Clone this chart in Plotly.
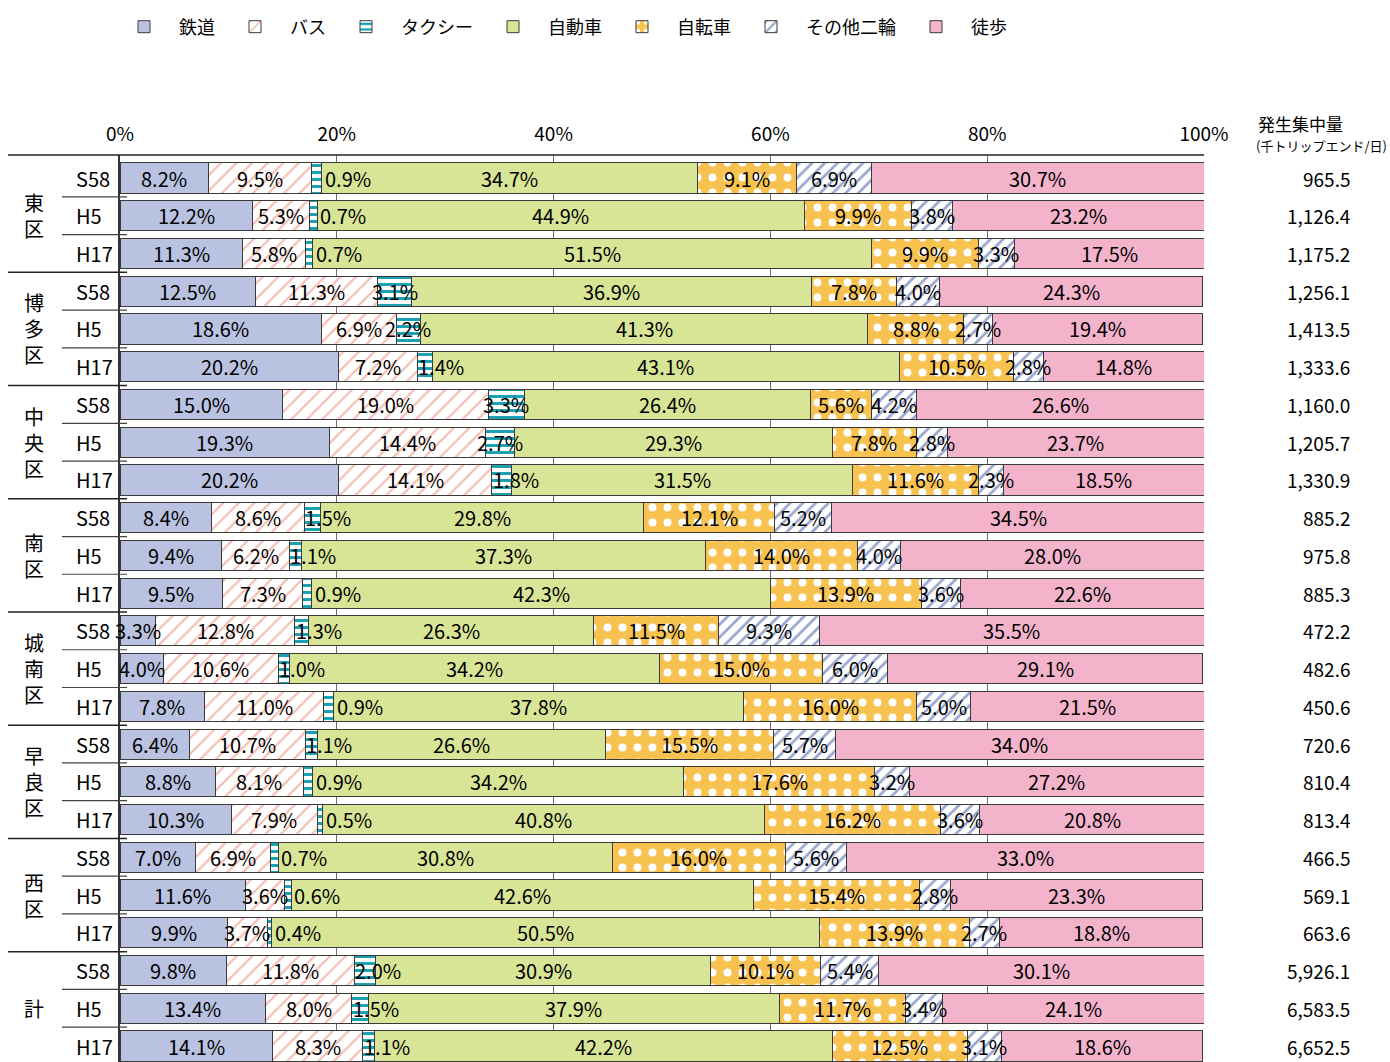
import plotly.graph_objects as go
import numpy as np

districts = ["東区", "博多区", "中央区", "南区", "城南区", "早良区", "西区", "計"]
years = ["S58", "H5", "H17"]
modes = ["鉄道", "バス", "タクシー", "自動車", "自転車", "その他二輪", "徒歩"]

rail = [8.2, 12.2, 11.3, 12.5, 18.6, 20.2, 15.0, 19.3, 20.2, 8.4, 9.4, 9.5,
        3.3, 4.0, 7.8, 6.4, 8.8, 10.3, 7.0, 11.6, 9.9, 9.8, 13.4, 14.1]
bus = [9.5, 5.3, 5.8, 11.3, 6.9, 7.2, 19.0, 14.4, 14.1, 8.6, 6.2, 7.3,
       12.8, 10.6, 11.0, 10.7, 8.1, 7.9, 6.9, 3.6, 3.7, 11.8, 8.0, 8.3]
taxi = [0.9, 0.7, 0.7, 3.1, 2.2, 1.4, 3.3, 2.7, 1.8, 1.5, 1.1, 0.9,
        1.3, 1.0, 0.9, 1.1, 0.9, 0.5, 0.7, 0.6, 0.4, 2.0, 1.5, 1.1]
car = [34.7, 44.9, 51.5, 36.9, 41.3, 43.1, 26.4, 29.3, 31.5, 29.8, 37.3, 42.3,
       26.3, 34.2, 37.8, 26.6, 34.2, 40.8, 30.8, 42.6, 50.5, 30.9, 37.9, 42.2]
bicycle = [9.1, 9.9, 9.9, 7.8, 8.8, 10.5, 5.6, 7.8, 11.6, 12.1, 14.0, 13.9,
           11.5, 15.0, 16.0, 15.5, 17.6, 16.2, 16.0, 15.4, 13.9, 10.1, 11.7, 12.5]
moto = [6.9, 3.8, 3.3, 4.0, 2.7, 2.8, 4.2, 2.8, 2.3, 5.2, 4.0, 3.6,
        9.3, 6.0, 5.0, 5.7, 3.2, 3.6, 5.6, 2.8, 2.7, 5.4, 3.4, 3.1]
walk = [30.7, 23.2, 17.5, 24.3, 19.4, 14.8, 26.6, 23.7, 18.5, 34.5, 28.0, 22.6,
        35.5, 29.1, 21.5, 34.0, 27.2, 20.8, 33.0, 23.3, 18.8, 30.1, 24.1, 18.6]
volume = ["965.5", "1,126.4", "1,175.2", "1,256.1", "1,413.5", "1,333.6",
          "1,160.0", "1,205.7", "1,330.9", "885.2", "975.8", "885.3",
          "472.2", "482.6", "450.6", "720.6", "810.4", "813.4",
          "466.5", "569.1", "663.6", "5,926.1", "6,583.5", "6,652.5"]

tick_vals = [0, 20, 40, 60, 80, 100]
tick_text = ["0%", "20%", "40%", "60%", "80%", "100%"]

series = [rail, bus, taxi, car, bicycle, moto, walk]

FONT = "Noto Sans CJK JP"
W, H = 1390, 1062
L, R, T, B = 120, 1204, 155, 1062
PITCH = 37.74
ROW0 = 178.0


def px_x(p):
    return (p - L) / (R - L)


def py_paper(p):
    return (B - p) / (B - T)


n_rows = len(rail)
rows = list(range(n_rows))

patterns = [
    None,
    dict(shape="/", fgcolor="#F4BDB2", bgcolor="#FFFFFF", size=11, solidity=0.2, fillmode="replace"),
    dict(shape="-", fgcolor="#17A0B2", bgcolor="#FFFFFF", size=7, solidity=0.42, fillmode="replace"),
    None,
    dict(shape=".", fgcolor="#FFFFFF", bgcolor="#F7C24F", size=15, solidity=0.22, fillmode="replace"),
    dict(shape="/", fgcolor="#9AA5CF", bgcolor="#FFFFFF", size=9, solidity=0.3, fillmode="replace"),
    None,
]
solid_colors = ["#B9C2E1", "#FFFFFF", "#FFFFFF", "#D8E596", "#F7C24F", "#FFFFFF", "#F3B3CB"]

fig = go.Figure()
for name, vals, pat, col in zip(modes, series, patterns, solid_colors):
    marker = dict(color=col, line=dict(color="#3A3A3A", width=1))
    if pat:
        marker["pattern"] = pat
    fig.add_trace(go.Bar(
        x=vals, y=rows, orientation="h", name=name, width=0.8,
        marker=marker, hoverinfo="x+name",
    ))

annotations = []
# segment labels
for r in rows:
    start = 0.0
    for j, vals in enumerate(series):
        v = vals[r]
        end = start + v
        txt = f"{v:.1f}%"
        if j == 2 and v < 1.0:
            a = dict(x=end, y=r, xanchor="left", xshift=1)
        elif j == 2 and v <= 2.0:
            a = dict(x=start, y=r, xanchor="left", xshift=-1)
        else:
            a = dict(x=(start + end) / 2, y=r, xanchor="center")
        a.update(xref="x", yref="y", text=txt, showarrow=False,
                 font=dict(family=FONT, size=20, color="#000000"))
        annotations.append(a)
        start = end

# row labels (years) and volumes
for r in rows:
    annotations.append(dict(x=px_x(74), y=r, xref="paper", yref="y", text=years[r % 3],
                            xanchor="left", showarrow=False,
                            font=dict(family=FONT, size=20, color="#000000")))
    annotations.append(dict(x=px_x(1352), y=r, xref="paper", yref="y", text=volume[r],
                            xanchor="right", showarrow=False,
                            font=dict(family=FONT, size=19, color="#000000")))

# group labels (vertical)
for g, d in enumerate(districts):
    annotations.append(dict(x=px_x(34), y=g * 3 + 1, xref="paper", yref="y",
                            text="<br>".join(list(d)), xanchor="center", yanchor="middle",
                            showarrow=False,
                            font=dict(family=FONT, size=20, color="#000000")))

# header
annotations.append(dict(x=px_x(1256), y=py_paper(124), xref="paper", yref="paper",
                        text="発生集中量", xanchor="left", yanchor="middle", showarrow=False,
                        font=dict(family=FONT, size=17, color="#000000")))
annotations.append(dict(x=px_x(1254), y=py_paper(145), xref="paper", yref="paper",
                        text="(千トリップエンド/日)", xanchor="left", yanchor="middle", showarrow=False,
                        font=dict(family=FONT, size=13, color="#000000")))

shapes = []
shapes.append(dict(type="line", xref="paper", yref="paper", x0=px_x(8), x1=1, y0=1, y1=1,
                   line=dict(color="#222222", width=1.5)))
for r in range(n_rows - 1):
    yb = r + 0.5
    if r % 3 == 2:
        x0, w, c = px_x(8), 1.5, "#222222"
    else:
        x0, w, c = px_x(62), 1.2, "#444444"
    shapes.append(dict(type="line", xref="paper", yref="y", x0=x0, x1=px_x(127), y0=yb, y1=yb,
                       line=dict(color=c, width=w)))

ytop = (T - ROW0) / PITCH
ybot = (B - ROW0) / PITCH

fig.update_layout(
    width=W, height=H,
    barmode="stack",
    margin=dict(l=L, r=W - R, t=T, b=H - B, autoexpand=False),
    paper_bgcolor="white", plot_bgcolor="white",
    font=dict(family=FONT, size=18, color="#000000"),
    xaxis=dict(range=[0, 100], side="top", tickvals=tick_vals, ticktext=tick_text,
               showgrid=True, gridcolor="#6E6E6E", gridwidth=1, zeroline=False,
               ticks="", ticklabelstandoff=9,
               tickfont=dict(family=FONT, size=19, color="#000000"),
               showline=False, fixedrange=True),
    yaxis=dict(range=[ybot, ytop], showticklabels=False, showgrid=False, zeroline=False,
               showline=True, linecolor="#333333", linewidth=1.5, ticks=""),
    legend=dict(orientation="h", x=px_x(109), y=py_paper(27), xanchor="left", yanchor="middle",
                font=dict(family=FONT, size=18, color="#000000"), itemwidth=60,
                traceorder="normal", bgcolor="rgba(0,0,0,0)"),
    annotations=annotations,
    shapes=shapes,
    bargap=0.2,
)

fig.write_html("out.html", config={"displayModeBar": False},
               post_script="document.body.style.margin='0';document.body.style.padding='0';")
